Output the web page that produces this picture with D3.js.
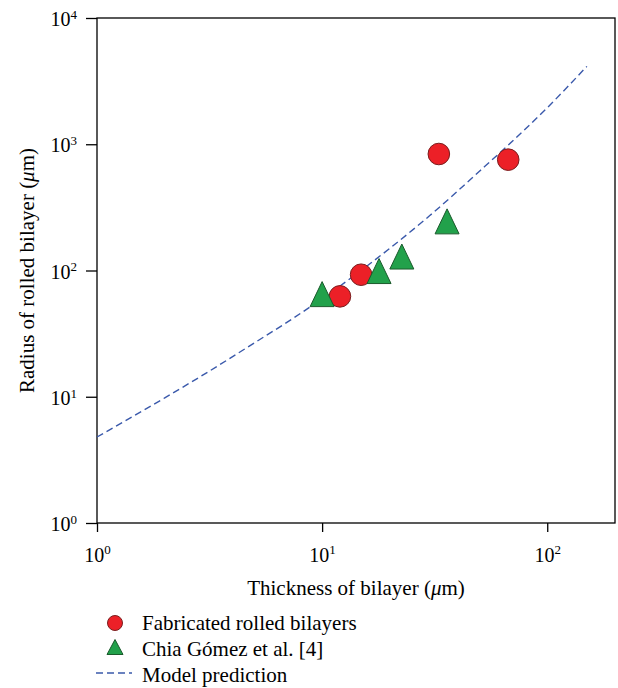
<!DOCTYPE html>
<html><head><meta charset="utf-8">
<script src="https://cdn.jsdelivr.net/npm/d3@7"></script>
<style>body{margin:0;background:#fff}svg{display:block}</style>
</head><body>
<svg id="c" width="618" height="688"></svg>
<script>
// Data
const fabThickness = [12.0, 14.9, 33.0, 67.1];
const fabRadius    = [62.4, 92.6, 837, 755];
const chiaThickness = [10.0, 17.9, 22.6, 35.9];
const chiaRadius    = [65, 99, 129, 245];
const modelThickness = [1, 2, 3, 5, 7, 10, 15, 20, 30, 50, 70, 100, 150];
const modelRadius    = [4.8, 9.8, 15.1, 26.7, 39, 59.8, 101, 150, 271, 611, 1057, 1946, 4140];
const xTicks = [1, 10, 100];
const yTicks = [1, 10, 100, 1000, 10000];
const legendLabels = ["Fabricated rolled bilayers", "Chia Gómez et al. [4]", "Model prediction"];

const svg = d3.select("#c");
const font = "'Liberation Serif', 'DejaVu Serif', serif";
const L = 97, R = 615, T = 18, B = 523;
const x = d3.scaleLog().domain([1, 200]).range([L, R]);
const y = d3.scaleLog().domain([1, 10000]).range([B, T]);

function expLabel(sel, v) {
  const e = Math.round(Math.log10(v));
  sel.text(null);
  sel.append("tspan").text("10");
  sel.append("tspan").attr("dy", "-0.55em").attr("font-size", "13px").text(e);
}

// X axis
const gx = svg.append("g").attr("transform", `translate(0,${B})`)
  .call(d3.axisBottom(x).tickValues(xTicks).tickSize(9).tickSizeOuter(0).tickFormat(""));
gx.select(".domain").remove();
gx.selectAll(".tick line").attr("stroke", "#000").attr("stroke-width", 1.3);
gx.selectAll(".tick text").remove();
gx.selectAll(".tick").append("text")
  .attr("y", 38.5).attr("text-anchor", "middle").attr("fill", "#000")
  .attr("font-family", font).attr("font-size", "20px")
  .each(function(d){ expLabel(d3.select(this), d); });

// Y axis
const gy = svg.append("g").attr("transform", `translate(${L},0)`)
  .call(d3.axisLeft(y).tickValues(yTicks).tickSize(11).tickSizeOuter(0).tickFormat(""));
gy.select(".domain").remove();
gy.selectAll(".tick line").attr("stroke", "#000").attr("stroke-width", 1.3);
gy.selectAll(".tick text").remove();
gy.selectAll(".tick").append("text")
  .attr("x", -20).attr("y", 7.5).attr("text-anchor", "end").attr("fill", "#000")
  .attr("font-family", font).attr("font-size", "20px")
  .each(function(d){ expLabel(d3.select(this), d); });

// Frame
svg.append("rect").attr("x", L).attr("y", T).attr("width", R - L).attr("height", B - T)
  .attr("fill", "none").attr("stroke", "#000").attr("stroke-width", 1.3);

// Model line
const modelPts = modelThickness.map((t, i) => [t, modelRadius[i]]);
svg.append("path").datum(modelPts)
  .attr("d", d3.line().x(d => x(d[0])).y(d => y(d[1])).curve(d3.curveMonotoneX))
  .attr("fill", "none").attr("stroke", "#3a59ab").attr("stroke-width", 1.4)
  .attr("stroke-dasharray", "7,4");

// Markers
const triPath = (w, h) => `M0,${-h/2}L${w/2},${h/2}L${-w/2},${h/2}Z`;
const fabPts = fabThickness.map((t, i) => [t, fabRadius[i]]);
svg.append("g").selectAll("circle").data(fabPts).join("circle")
  .attr("cx", d => x(d[0])).attr("cy", d => y(d[1])).attr("r", 10.8)
  .attr("fill", "#ec2027").attr("stroke", "#7a1f1f").attr("stroke-width", 1);
const chiaPts = chiaThickness.map((t, i) => [t, chiaRadius[i]]);
svg.append("g").selectAll("path").data(chiaPts).join("path")
  .attr("transform", d => `translate(${x(d[0])},${y(d[1])})`)
  .attr("d", triPath(24, 25))
  .attr("fill", "#22a14b").attr("stroke", "#1b5a2c").attr("stroke-width", 1);

// Axis titles
svg.append("text").attr("x", (L + R) / 2).attr("y", 595).attr("text-anchor", "middle")
  .attr("font-family", font).attr("font-size", "21px").attr("fill", "#000")
  .html("Thickness of bilayer (<tspan font-style='italic'>μ</tspan>m)");
svg.append("text").attr("transform", `translate(34,${(T + B) / 2}) rotate(-90)`)
  .attr("text-anchor", "middle")
  .attr("font-family", font).attr("font-size", "21px").attr("fill", "#000")
  .html("Radius of rolled bilayer (<tspan font-style='italic'>μ</tspan>m)");

// Legend
const lg = svg.append("g");
const ly = [623, 649, 675];
lg.append("circle").attr("cx", 115).attr("cy", ly[0]).attr("r", 7.5)
  .attr("fill", "#ec2027").attr("stroke", "#7a1f1f").attr("stroke-width", 1);
lg.append("path").attr("transform", `translate(115,${ly[1] - 2})`).attr("d", triPath(16, 15))
  .attr("fill", "#22a14b").attr("stroke", "#1b5a2c").attr("stroke-width", 1);
lg.append("line").attr("x1", 96).attr("x2", 132).attr("y1", ly[2] - 2).attr("y2", ly[2] - 2)
  .attr("stroke", "#3a59ab").attr("stroke-width", 1.4).attr("stroke-dasharray", "7,4");
lg.selectAll("text").data(legendLabels).join("text")
  .attr("x", 142).attr("y", (d, i) => ly[i] + 7)
  .attr("font-family", font).attr("font-size", "21px").attr("fill", "#000")
  .text(d => d);
</script>
</body></html>
